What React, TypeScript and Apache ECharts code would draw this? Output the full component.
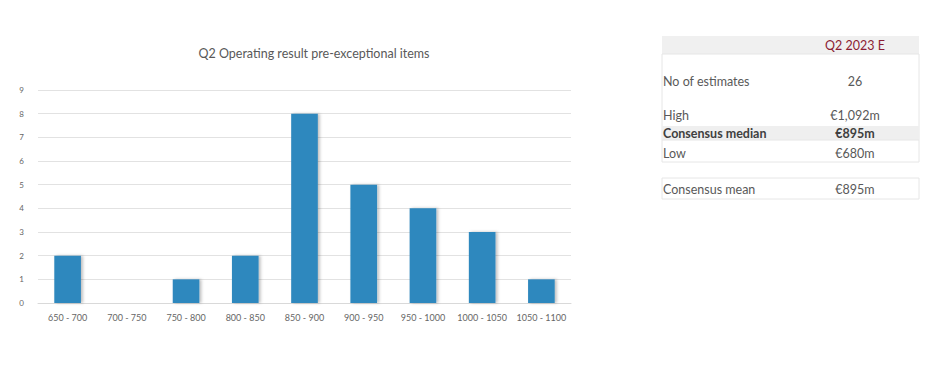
import React, { useEffect, useRef } from "react";
import * as echarts from "echarts";

const categories = ["650 - 700", "700 - 750", "750 - 800", "800 - 850", "850 - 900", "900 - 950", "950 - 1000", "1000 - 1050", "1050 - 1100"];
const counts = [2, 0, 1, 2, 8, 5, 4, 3, 1];
const yTicks = [0, 1, 2, 3, 4, 5, 6, 7, 8, 9];
const chartTitle = "Q2 Operating result pre-exceptional items";
const tableHeader = "Q2 2023 E";
const tableLabels = ["No of estimates", "High", "Consensus median", "Low"];
const tableValues = ["26", "€1,092m", "€895m", "€680m"];
const meanLabel = "Consensus mean";
const meanValue = "€895m";

const FONT = "Lato, 'Open Sans', sans-serif";

export default function App() {
  const ref = useRef<HTMLDivElement>(null);
  useEffect(() => {
    document.body.style.margin = "0";
    const chart = echarts.init(ref.current!, undefined, { renderer: "svg" });
    const rowY = [81, 115, 133, 153];
    const L = 662, R = 919, VX = 855;
    const border = "#e6e6e6";
    const graphics: any[] = [
      { type: "rect", shape: { x: L, y: 36, width: R - L, height: 18 }, style: { fill: "#f0f0f0" } },
      { type: "rect", shape: { x: L, y: 54, width: R - L, height: 108 }, style: { fill: "none", stroke: border, lineWidth: 1 } },
      { type: "rect", shape: { x: L, y: 126, width: R - L, height: 14 }, style: { fill: "#efefef" } },
      { type: "line", shape: { x1: L, y1: 140, x2: R, y2: 140 }, style: { stroke: border, lineWidth: 1 } },
      { type: "rect", shape: { x: L, y: 178, width: R - L, height: 21 }, style: { fill: "none", stroke: border, lineWidth: 1 } },
      {
        type: "text", x: VX, y: 45,
        style: { text: tableHeader, fill: "#8c1d34", font: `12.5px ${FONT}`, textAlign: "center", textVerticalAlign: "middle" },
      },
    ];
    tableLabels.forEach((lab, i) => {
      const bold = i === 2;
      graphics.push({
        type: "text", x: L + 1, y: rowY[i],
        style: { text: lab, fill: bold ? "#404040" : "#595959", font: `${bold ? "bold " : ""}12.5px ${FONT}`, textAlign: "left", textVerticalAlign: "middle" },
      });
      graphics.push({
        type: "text", x: VX, y: rowY[i],
        style: { text: tableValues[i], fill: bold ? "#404040" : "#595959", font: `${bold ? "bold " : ""}12.5px ${FONT}`, textAlign: "center", textVerticalAlign: "middle" },
      });
    });
    graphics.push({
      type: "text", x: L + 1, y: 189,
      style: { text: meanLabel, fill: "#595959", font: `12.5px ${FONT}`, textAlign: "left", textVerticalAlign: "middle" },
    });
    graphics.push({
      type: "text", x: VX, y: 189,
      style: { text: meanValue, fill: "#595959", font: `12.5px ${FONT}`, textAlign: "center", textVerticalAlign: "middle" },
    });

    chart.setOption({
      animation: false,
      title: {
        text: chartTitle,
        left: 309,
        top: 42,
        textAlign: "center",
        textStyle: { fontFamily: FONT, fontSize: 12.5, fontWeight: "normal", color: "#595959" },
      },
      grid: { left: 38, right: 360, top: 90, bottom: 64, containLabel: false },
      xAxis: {
        type: "category",
        data: categories,
        axisLine: { lineStyle: { color: "#d9d9d9" } },
        axisTick: { show: false },
        axisLabel: { color: "#666666", fontSize: 9, fontFamily: FONT, margin: 10, interval: 0 },
      },
      yAxis: {
        type: "value",
        min: yTicks[0],
        max: yTicks[yTicks.length - 1],
        interval: 1,
        axisLine: { show: false },
        axisTick: { show: false },
        axisLabel: { color: "#666666", fontSize: 8, fontFamily: FONT, margin: 14 },
        splitLine: { lineStyle: { color: "#e2e2e2" } },
      },
      series: [
        {
          type: "bar",
          data: counts,
          barWidth: "45%",
          itemStyle: {
            color: "#2f88be",
            shadowColor: "rgba(0,0,0,0.25)",
            shadowBlur: 3,
            shadowOffsetX: 2,
            shadowOffsetY: 0,
          },
        },
      ],
      graphic: graphics,
    });
    return () => chart.dispose();
  }, []);
  return <div ref={ref} style={{ width: 931, height: 367 }} />;
}
